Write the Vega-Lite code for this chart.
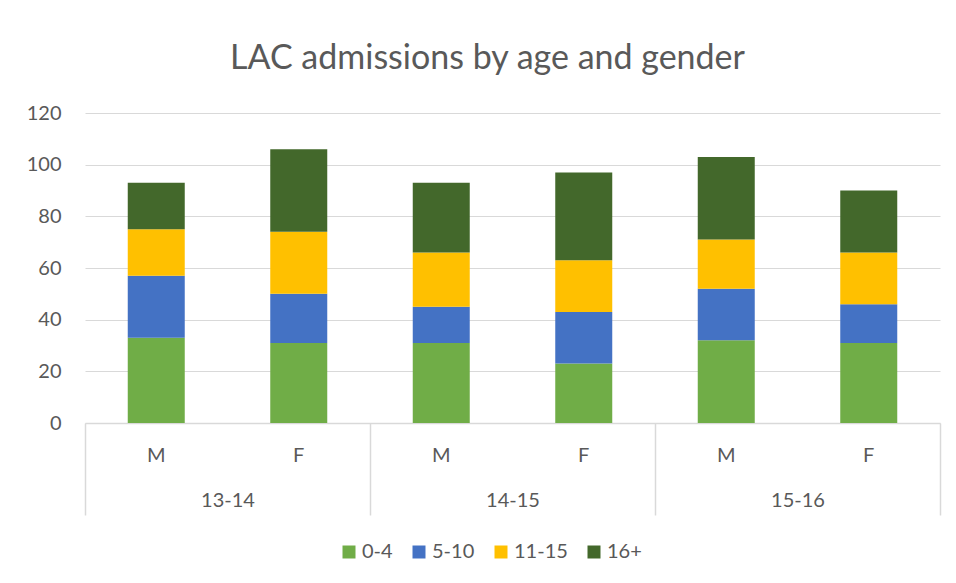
{
  "$schema": "https://vega.github.io/schema/vega-lite/v6.json",
  "width": 855,
  "height": 310,
  "autosize": {"type": "none"},
  "padding": {"left": 85, "top": 113, "right": 16, "bottom": 160},
  "background": "white",
  "config": {
    "font": "Lato",
    "view": {"stroke": null},
    "axis": {"labelColor": "#595959", "labelFont": "Lato", "labelFontSize": 20, "titleFontSize": 0}
  },
  "title": {
    "text": "LAC admissions by age and gender",
    "font": "Lato",
    "fontSize": 34,
    "fontWeight": "normal",
    "color": "#595959",
    "anchor": "middle",
    "frame": "group",
    "dx": -25,
    "offset": 27
  },
  "data": {
    "values": [
      {"cat": "13-14 M", "year": "13-14", "gender": "M", "age": "0-4", "value": 33},
      {"cat": "13-14 M", "year": "13-14", "gender": "M", "age": "5-10", "value": 24},
      {"cat": "13-14 M", "year": "13-14", "gender": "M", "age": "11-15", "value": 18},
      {"cat": "13-14 M", "year": "13-14", "gender": "M", "age": "16+", "value": 18},
      {"cat": "13-14 F", "year": "13-14", "gender": "F", "age": "0-4", "value": 31},
      {"cat": "13-14 F", "year": "13-14", "gender": "F", "age": "5-10", "value": 19},
      {"cat": "13-14 F", "year": "13-14", "gender": "F", "age": "11-15", "value": 24},
      {"cat": "13-14 F", "year": "13-14", "gender": "F", "age": "16+", "value": 32},
      {"cat": "14-15 M", "year": "14-15", "gender": "M", "age": "0-4", "value": 31},
      {"cat": "14-15 M", "year": "14-15", "gender": "M", "age": "5-10", "value": 14},
      {"cat": "14-15 M", "year": "14-15", "gender": "M", "age": "11-15", "value": 21},
      {"cat": "14-15 M", "year": "14-15", "gender": "M", "age": "16+", "value": 27},
      {"cat": "14-15 F", "year": "14-15", "gender": "F", "age": "0-4", "value": 23},
      {"cat": "14-15 F", "year": "14-15", "gender": "F", "age": "5-10", "value": 20},
      {"cat": "14-15 F", "year": "14-15", "gender": "F", "age": "11-15", "value": 20},
      {"cat": "14-15 F", "year": "14-15", "gender": "F", "age": "16+", "value": 34},
      {"cat": "15-16 M", "year": "15-16", "gender": "M", "age": "0-4", "value": 32},
      {"cat": "15-16 M", "year": "15-16", "gender": "M", "age": "5-10", "value": 20},
      {"cat": "15-16 M", "year": "15-16", "gender": "M", "age": "11-15", "value": 19},
      {"cat": "15-16 M", "year": "15-16", "gender": "M", "age": "16+", "value": 32},
      {"cat": "15-16 F", "year": "15-16", "gender": "F", "age": "0-4", "value": 31},
      {"cat": "15-16 F", "year": "15-16", "gender": "F", "age": "5-10", "value": 15},
      {"cat": "15-16 F", "year": "15-16", "gender": "F", "age": "11-15", "value": 20},
      {"cat": "15-16 F", "year": "15-16", "gender": "F", "age": "16+", "value": 24}
    ]
  },
  "layer": [
    {
      "transform": [
        {"calculate": "indexof(['0-4', '5-10', '11-15', '16+'], datum.age)", "as": "stackOrder"}
      ],
      "mark": {"type": "bar"},
      "encoding": {
        "x": {
          "field": "cat",
          "type": "nominal",
          "sort": null,
          "scale": {"paddingInner": 0.6, "paddingOuter": 0.3},
          "axis": {
            "orient": "bottom",
            "title": null,
            "labelAngle": 0,
            "labelExpr": "split(datum.label, ' ')[1]",
            "ticks": false,
            "labelPadding": 22,
            "domainColor": "#d9d9d9",
            "domainWidth": 1.5
          }
        },
        "y": {
          "field": "value",
          "type": "quantitative",
          "aggregate": "sum",
          "stack": "zero",
          "scale": {"domain": [0, 120], "nice": false},
          "axis": {
            "title": null,
            "values": [0, 20, 40, 60, 80, 100, 120],
            "domain": false,
            "ticks": false,
            "labelPadding": 24,
            "gridColor": "#d9d9d9",
            "gridWidth": 1.2
          }
        },
        "order": {"field": "stackOrder", "type": "quantitative", "sort": "ascending"},
        "color": {
          "field": "age",
          "type": "nominal",
          "sort": ["0-4", "5-10", "11-15", "16+"],
          "scale": {
            "domain": ["0-4", "5-10", "11-15", "16+"],
            "range": ["#70AD47", "#4472C4", "#FFC000", "#43682B"]
          },
          "legend": {
            "title": null,
            "orient": "none",
            "direction": "horizontal",
            "legendX": 254,
            "legendY": 429,
            "padding": 0,
            "symbolType": "square",
            "symbolSize": 169,
            "symbolStrokeWidth": 0,
            "symbolOpacity": 1,
            "labelFont": "Lato",
            "labelFontSize": 20,
            "labelColor": "#595959",
            "labelOffset": 3,
            "columnPadding": 16
          }
        }
      }
    },
    {
      "mark": {"type": "rule", "opacity": 0},
      "encoding": {
        "x": {
          "field": "year",
          "type": "nominal",
          "sort": null,
          "scale": {"paddingInner": 0, "paddingOuter": 0},
          "axis": {
            "orient": "bottom",
            "title": null,
            "labelAngle": 0,
            "domain": false,
            "tickBand": "extent",
            "tickSize": 92,
            "tickColor": "#d9d9d9",
            "tickWidth": 1.5,
            "labelPadding": -25
          }
        }
      }
    }
  ],
  "resolve": {"scale": {"x": "independent"}, "axis": {"x": "independent"}}
}
